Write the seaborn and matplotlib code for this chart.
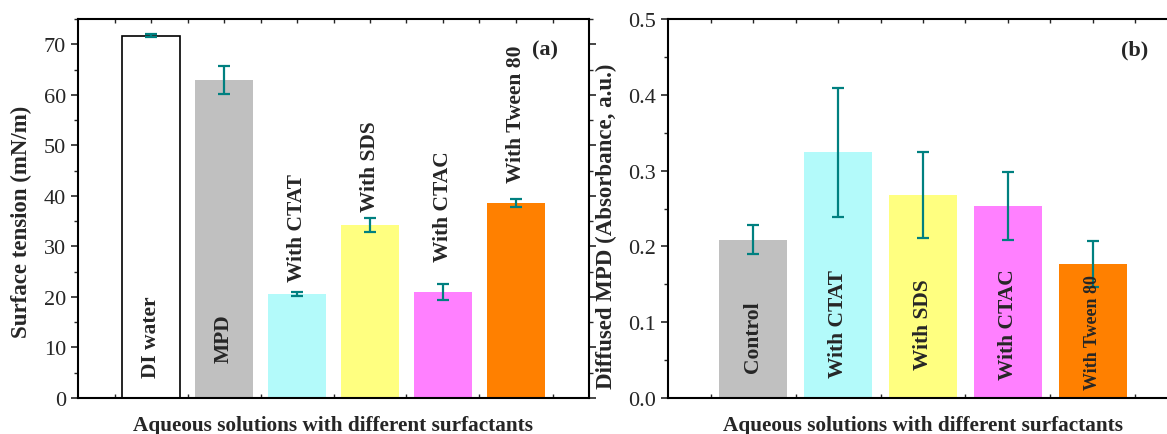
import numpy as np
import pandas as pd
import matplotlib
matplotlib.use("Agg")
import matplotlib.pyplot as plt
from matplotlib.ticker import MultipleLocator
import seaborn as sns

# ---- data ----
cats_a = ["DI water", "MPD", "With CTAT", "With SDS", "With CTAC", "With Tween 80"]
vals_a = [71.7, 62.9, 20.6, 34.2, 21.0, 38.6]
errs_a = [0.35, 2.8, 0.4, 1.35, 1.65, 0.8]
colors_a = ["#FFFFFF", "#C0C0C0", "#B3FAFA", "#FFFF80", "#FF80FF", "#FF8000"]
label_base_a = [4.2, 7.1, 23.2, 37.0, 27.1, 42.7]

cats_b = ["Control", "With CTAT", "With SDS", "With CTAC", "With Tween 80"]
vals_b = [0.209, 0.324, 0.268, 0.253, 0.177]
errs_b = [0.019, 0.085, 0.057, 0.045, 0.030]
colors_b = ["#C0C0C0", "#B3FAFA", "#FFFF80", "#FF80FF", "#FF8000"]
label_base_b = [0.034, 0.028, 0.038, 0.025, 0.012]

xlabel = "Aqueous solutions with different surfactants"
ylabel_a = "Surface tension (mN/m)"
ylabel_b = "Diffused MPD (Absorbance, a.u.)"

sns.set_theme(style="ticks")
plt.rcParams["font.family"] = ["Liberation Serif", "DejaVu Serif"]
plt.rcParams["axes.linewidth"] = 1.5

fig = plt.figure(figsize=(11.67, 4.35), dpi=100)
ax1 = fig.add_axes([78 / 1167, 36 / 435, 511 / 1167, 379 / 435])
ax2 = fig.add_axes([668 / 1167, 36 / 435, 510 / 1167, 379 / 435])

ERR_COLOR = "#008080"
FS_TICK = 16
FS_XLABEL = 15.3
FS_YLABEL = 16.5
FS_BAR = 15.5


def panel(ax, cats, vals, errs, colors, bases, ylim, major, minor, ylabel, tag,
          tagpos, fmt, bar_fs, ylab_coords):
    df = pd.DataFrame({"cat": cats, "val": vals})
    sns.barplot(data=df, x="cat", y="val", hue="cat", order=cats, hue_order=cats,
                palette=colors, legend=False, width=0.8, saturation=1, ax=ax,
                errorbar=None, linewidth=0)
    for i, p in enumerate(ax.patches):
        if colors[i].upper() == "#FFFFFF":
            p.set_edgecolor("black")
            p.set_linewidth(1.2)
    xs = np.arange(len(cats))
    ax.errorbar(xs, vals, yerr=errs, fmt="none", ecolor=ERR_COLOR,
                elinewidth=1.6, capsize=4, capthick=1.6, zorder=3)
    for i, c in enumerate(cats):
        fs = bar_fs[i] if isinstance(bar_fs, list) else bar_fs
        ax.text(xs[i], bases[i], c, rotation=90, ha="center", va="bottom",
                fontsize=fs, fontweight="bold", zorder=4)
    ax.set_xlim(-1, len(cats))
    ax.set_ylim(*ylim)
    ax.yaxis.set_major_locator(MultipleLocator(major))
    ax.yaxis.set_minor_locator(MultipleLocator(minor))
    ax.yaxis.set_major_formatter(plt.FormatStrFormatter(fmt))
    ax.set_xticks(xs)
    ax.set_xticks(np.arange(-0.5, len(cats) + 0.5, 1.0), minor=True)
    ax.set_xticklabels([])
    ax.tick_params(axis="y", which="major", direction="out", length=5, width=1.2,
                   labelsize=FS_TICK, right=True)
    ax.tick_params(axis="y", which="minor", direction="out", length=3, width=1.0,
                   right=True)
    ax.tick_params(axis="x", which="both", direction="in", length=3, width=1.0,
                   top=True)
    ax.set_xlabel(xlabel, fontsize=FS_XLABEL, fontweight="bold", labelpad=9)
    ax.set_ylabel(ylabel, fontsize=FS_YLABEL, fontweight="bold")
    ax.yaxis.set_label_coords(*ylab_coords)
    ax.text(tagpos[0], tagpos[1], tag, fontsize=16, fontweight="bold",
            ha="center", va="center")
    for s in ax.spines.values():
        s.set_visible(True)
        s.set_color("black")
        s.set_linewidth(1.5)


panel(ax1, cats_a, vals_a, errs_a, colors_a, label_base_a, (0, 75), 10, 5,
      ylabel_a, "(a)", (5.4, 69), "%d", FS_BAR, (-0.09, 0.467))
panel(ax2, cats_b, vals_b, errs_b, colors_b, label_base_b, (0, 0.5), 0.1, 0.05,
      ylabel_b, "(b)", (4.49, 0.46), "%.1f", [FS_BAR, FS_BAR, FS_BAR, FS_BAR, 13],
      (-0.10, 0.456))

fig.savefig("out.png", dpi=100)
